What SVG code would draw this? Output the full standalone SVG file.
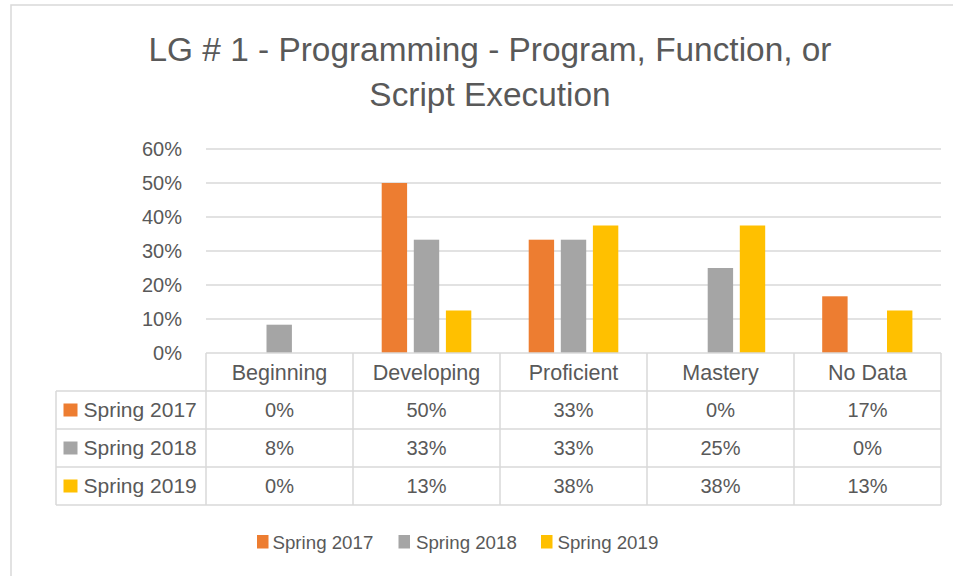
<svg xmlns="http://www.w3.org/2000/svg" width="953" height="576" viewBox="0 0 953 576">
<style>
text{font-family:"Liberation Sans",Arial,sans-serif;fill:#595959}
.title{font-size:33.4px;text-anchor:middle}
.ax{font-size:20px;text-anchor:end}
.hd{font-size:21.5px;text-anchor:middle}
.sr{font-size:21px}
.num{font-size:20px;text-anchor:middle}
.lg{font-size:18.7px}
.grid{stroke:#d9d9d9;stroke-width:1.5;fill:none}
.o{fill:#ED7D31}.g{fill:#A5A5A5}.y{fill:#FFC000}
</style>
<rect x="0" y="0" width="953" height="576" fill="#fff"/>
<rect x="11" y="5" width="980" height="620" fill="none" stroke="#d9d9d9" stroke-width="1.5"/>
<g id="title">
<text class="title" x="490" y="61">LG # 1 - Programming - Program, Function, or</text>
<text class="title" x="490" y="106">Script Execution</text>
</g>
<g id="gridlines" class="grid">
<path d="M206 149H941M206 183H941M206 217H941M206 251H941M206 285H941M206 319H941"/>
</g>
<g id="y-axis">
<text class="ax" x="182" y="156">60%</text>
<text class="ax" x="182" y="190">50%</text>
<text class="ax" x="182" y="224">40%</text>
<text class="ax" x="182" y="258">30%</text>
<text class="ax" x="182" y="292">20%</text>
<text class="ax" x="182" y="326">10%</text>
<text class="ax" x="182" y="360">0%</text>
</g>
<g id="bars">
<rect class="g" x="266.5" y="324.7" width="25.4" height="28.3"/>
<rect class="o" x="381.7" y="183" width="25.4" height="170"/>
<rect class="g" x="413.8" y="239.7" width="25.4" height="113.3"/>
<rect class="y" x="445.9" y="310.5" width="25.4" height="42.5"/>
<rect class="o" x="528.7" y="239.7" width="25.4" height="113.3"/>
<rect class="g" x="560.8" y="239.7" width="25.4" height="113.3"/>
<rect class="y" x="592.9" y="225.5" width="25.4" height="127.5"/>
<rect class="g" x="707.7" y="268" width="25.4" height="85"/>
<rect class="y" x="739.8" y="225.5" width="25.4" height="127.5"/>
<rect class="o" x="822.2" y="296.3" width="25.4" height="56.7"/>
<rect class="y" x="887" y="310.5" width="25.4" height="42.5"/>
</g>
<g id="table">
<path class="grid" d="M206 353H941M56 391H941M56 429H941M56 467H941M56 505H941M56 391V505M206 353V505M353 353V505M500 353V505M647 353V505M794 353V505M941 353V505"/>
<text class="hd" x="279.5" y="379.5">Beginning</text>
<text class="hd" x="426.5" y="379.5">Developing</text>
<text class="hd" x="573.5" y="379.5">Proficient</text>
<text class="hd" x="720.5" y="379.5">Mastery</text>
<text class="hd" x="867.5" y="379.5">No Data</text>
<rect class="o" x="63.5" y="403.5" width="14" height="13"/>
<text class="sr" x="83.5" y="417">Spring 2017</text>
<rect class="g" x="63.5" y="441.5" width="14" height="13"/>
<text class="sr" x="83.5" y="455">Spring 2018</text>
<rect class="y" x="63.5" y="479.5" width="14" height="13"/>
<text class="sr" x="83.5" y="493">Spring 2019</text>
<text class="num" x="279.5" y="417">0%</text>
<text class="num" x="426.5" y="417">50%</text>
<text class="num" x="573.5" y="417">33%</text>
<text class="num" x="720.5" y="417">0%</text>
<text class="num" x="867.5" y="417">17%</text>
<text class="num" x="279.5" y="455">8%</text>
<text class="num" x="426.5" y="455">33%</text>
<text class="num" x="573.5" y="455">33%</text>
<text class="num" x="720.5" y="455">25%</text>
<text class="num" x="867.5" y="455">0%</text>
<text class="num" x="279.5" y="493">0%</text>
<text class="num" x="426.5" y="493">13%</text>
<text class="num" x="573.5" y="493">38%</text>
<text class="num" x="720.5" y="493">38%</text>
<text class="num" x="867.5" y="493">13%</text>
</g>
<g id="legend">
<rect class="o" x="257" y="535" width="11.5" height="13.5"/>
<text class="lg" x="272.5" y="548.5">Spring 2017</text>
<rect class="g" x="398.5" y="535" width="11.5" height="13.5"/>
<text class="lg" x="416" y="548.5">Spring 2018</text>
<rect class="y" x="541" y="535" width="11.5" height="13.5"/>
<text class="lg" x="557.5" y="548.5">Spring 2019</text>
</g>
</svg>
